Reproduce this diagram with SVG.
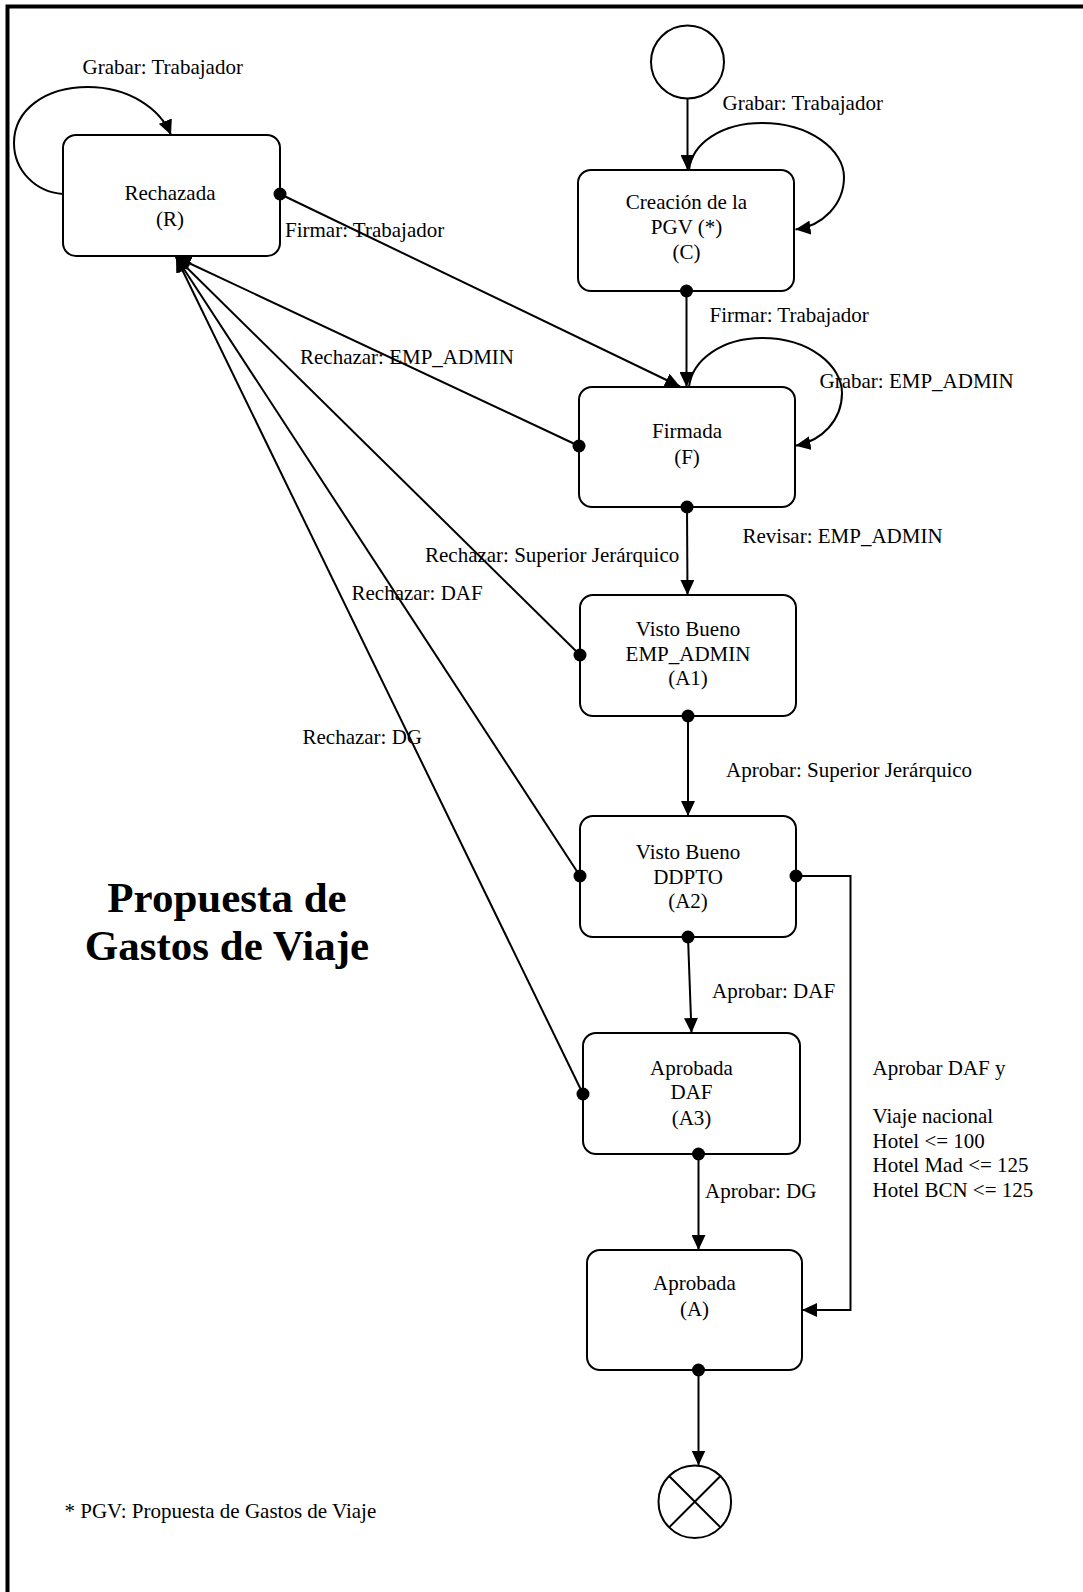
<svg xmlns="http://www.w3.org/2000/svg" width="1083" height="1592" viewBox="0 0 1083 1592">
<style>
.box{fill:#fff;stroke:#000;stroke-width:2}
.t{font-family:"Liberation Serif","Times New Roman",serif;font-size:21px;fill:#000}
.c{text-anchor:middle}
.ln{fill:none;stroke:#000;stroke-width:2}
.title{font-family:"Liberation Serif","Times New Roman",serif;font-size:43px;font-weight:bold;text-anchor:middle;fill:#000}
</style>
<defs>
<marker id="arr" markerUnits="userSpaceOnUse" markerWidth="16" markerHeight="14" refX="15" refY="7" orient="auto"><path d="M0,0 L15,7 L0,14 z" fill="#000"/></marker>
<marker id="dot" markerUnits="userSpaceOnUse" markerWidth="14" markerHeight="14" refX="7" refY="7"><circle cx="7" cy="7" r="6.5" fill="#000"/></marker>
</defs>
<rect x="0" y="0" width="1083" height="1592" fill="#fff"/>
<path d="M7.5,1600 V6.5 H1100" fill="none" stroke="#000" stroke-width="4"/>

<g id="start"><circle cx="687.5" cy="62" r="36.5" class="box"/></g>
<g id="rechazada"><rect x="63" y="135" width="217" height="121" rx="13" class="box"/>
<text class="t c" x="170" y="200">Rechazada</text><text class="t c" x="170" y="226">(R)</text></g>
<g id="creacion"><rect x="578" y="170" width="216" height="121" rx="13" class="box"/>
<text class="t c" x="686.5" y="209">Creación de la</text><text class="t c" x="686.5" y="234">PGV (*)</text><text class="t c" x="686.5" y="259">(C)</text></g>
<g id="firmada"><rect x="579" y="387" width="216" height="120" rx="13" class="box"/>
<text class="t c" x="687" y="438">Firmada</text><text class="t c" x="687" y="464">(F)</text></g>
<g id="a1"><rect x="580" y="595" width="216" height="121" rx="13" class="box"/>
<text class="t c" x="688" y="636">Visto Bueno</text><text class="t c" x="688" y="661">EMP_ADMIN</text><text class="t c" x="688" y="685">(A1)</text></g>
<g id="a2"><rect x="580" y="816" width="216" height="121" rx="13" class="box"/>
<text class="t c" x="688" y="859">Visto Bueno</text><text class="t c" x="688" y="884">DDPTO</text><text class="t c" x="688" y="908">(A2)</text></g>
<g id="a3"><rect x="583" y="1033" width="217" height="121" rx="13" class="box"/>
<text class="t c" x="691.5" y="1075">Aprobada</text><text class="t c" x="691.5" y="1099">DAF</text><text class="t c" x="691.5" y="1125">(A3)</text></g>
<g id="aprobada"><rect x="587" y="1250" width="215" height="120" rx="13" class="box"/>
<text class="t c" x="694.5" y="1290">Aprobada</text><text class="t c" x="694.5" y="1316">(A)</text></g>
<g id="end"><circle cx="694.8" cy="1501.7" r="36.3" class="box"/>
<path d="M669.1,1476 L720.5,1527.4 M720.5,1476 L669.1,1527.4" class="ln"/></g>

<g id="connectors">
<path class="ln" marker-end="url(#arr)" d="M687.5,98.5 L687.5,170"/>
<path class="ln" marker-end="url(#arr)" d="M689,170 C692,143 722,123 762,123 C810,123 844,150 844,177 C844,205 822,226 795.5,229.5"/>
<path class="ln" marker-start="url(#dot)" marker-end="url(#arr)" d="M686.5,291 L686.5,387"/>
<path class="ln" marker-end="url(#arr)" d="M689,387 C692,360 722,338 762,338 C810,338 842,366 842,393 C842,420 822,441 795.5,445.7"/>
<path class="ln" marker-start="url(#dot)" marker-end="url(#arr)" d="M280,194 L680,386.5"/>
<path class="ln" marker-end="url(#arr)" d="M63,194 C35,192 14,170 14,143 C14,110 45,87 88,87 C128,87 160,108 171,135"/>
<path class="ln" marker-start="url(#dot)" marker-end="url(#arr)" d="M579,446 L176,257"/>
<path class="ln" marker-start="url(#dot)" marker-end="url(#arr)" d="M687,507 L687.5,595"/>
<path class="ln" marker-start="url(#dot)" marker-end="url(#arr)" d="M580,655 L176,257"/>
<path class="ln" marker-start="url(#dot)" marker-end="url(#arr)" d="M688,716 L688,816"/>
<path class="ln" marker-start="url(#dot)" marker-end="url(#arr)" d="M580,876 L176,257"/>
<path class="ln" marker-start="url(#dot)" marker-end="url(#arr)" d="M688,937 L691.5,1033"/>
<path class="ln" marker-start="url(#dot)" marker-end="url(#arr)" d="M796,876 H850.5 V1310 H802"/>
<path class="ln" marker-start="url(#dot)" marker-end="url(#arr)" d="M583,1094 L176,257"/>
<path class="ln" marker-start="url(#dot)" marker-end="url(#arr)" d="M698.5,1154 L698.5,1250"/>
<path class="ln" marker-start="url(#dot)" marker-end="url(#arr)" d="M698.5,1370 L698.5,1465.5"/>

<text class="t" x="82.5" y="74">Grabar: Trabajador</text>
<text class="t" x="285" y="237">Firmar: Trabajador</text>
<text class="t" x="722.5" y="110">Grabar: Trabajador</text>
<text class="t" x="709.5" y="321.5">Firmar: Trabajador</text>
<text class="t" x="819.5" y="388">Grabar: EMP_ADMIN</text>
<text class="t" x="300" y="364">Rechazar: EMP_ADMIN</text>
<text class="t" x="742.5" y="543">Revisar: EMP_ADMIN</text>
<text class="t" x="425" y="562">Rechazar: Superior Jerárquico</text>
<text class="t" x="351.5" y="600">Rechazar: DAF</text>
<text class="t" x="302.5" y="744">Rechazar: DG</text>
<text class="t" x="726" y="777">Aprobar: Superior Jerárquico</text>
<text class="t" x="712" y="998">Aprobar: DAF</text>
<text class="t" x="705" y="1198">Aprobar: DG</text>
<text class="t" x="872.5" y="1075">Aprobar DAF y</text>
<text class="t" x="872.5" y="1123">Viaje nacional</text>
<text class="t" x="872.5" y="1148">Hotel &lt;= 100</text>
<text class="t" x="872.5" y="1172">Hotel Mad &lt;= 125</text>
<text class="t" x="872.5" y="1197">Hotel BCN &lt;= 125</text>
</g>

<text class="title" x="227" y="912">Propuesta de</text>
<text class="title" x="227" y="960">Gastos de Viaje</text>
<text class="t" x="64.5" y="1518">* PGV: Propuesta de Gastos de Viaje</text>
</svg>
